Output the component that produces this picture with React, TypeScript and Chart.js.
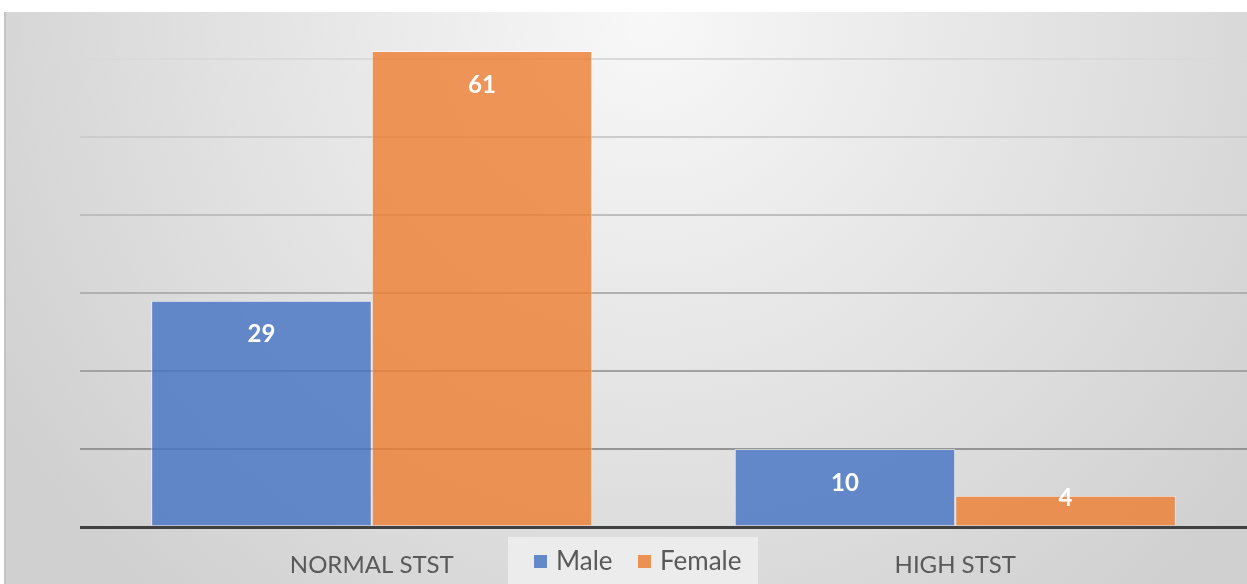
import React, { useEffect, useRef } from "react";
import { Chart, registerables } from "chart.js";

Chart.register(...registerables);

const categories = ["NORMAL STST", "HIGH STST"];
const seriesNames = ["Male", "Female"];
const maleValues = [29, 10];
const femaleValues = [61, 4];
const yMax = 66;
const yStep = 10;

const FONT = "Lato, 'Open Sans', sans-serif";
const TEXT_COLOR = "#595959";
const MALE_COLOR = "rgba(68,114,196,0.8)";
const FEMALE_COLOR = "rgba(237,125,49,0.8)";
const MALE_SWATCH = "#6389ca";
const FEMALE_SWATCH = "#ea9154";

const backgroundPlugin = {
  id: "bgPlugin",
  beforeDraw(chart: any) {
    const { ctx, width, height } = chart;
    ctx.save();
    ctx.fillStyle = "#ffffff";
    ctx.fillRect(0, 0, width, height);
    const g = ctx.createRadialGradient(650, 20, 0, 650, 20, 760);
    g.addColorStop(0, "#f8f8f8");
    g.addColorStop(1, "#d0d0d0");
    ctx.fillStyle = g;
    ctx.fillRect(4, 12, width - 4, height - 12);
    ctx.fillStyle = "#c4c4c4";
    ctx.fillRect(4, 12, 2, height - 12);
    ctx.restore();
  },
};

const labelPlugin = {
  id: "valueLabels",
  afterDatasetsDraw(chart: any) {
    const { ctx } = chart;
    ctx.save();
    ctx.font = `bold 24px ${FONT}`;
    ctx.fillStyle = "#ffffff";
    ctx.textAlign = "center";
    ctx.textBaseline = "middle";
    chart.data.datasets.forEach((ds: any, di: number) => {
      const meta = chart.getDatasetMeta(di);
      meta.data.forEach((el: any, i: number) => {
        const cy = Math.min(el.y + 34, el.base - 27);
        ctx.fillText(String(ds.data[i]), el.x, cy);
      });
    });
    ctx.restore();
  },
};

const legendPlugin = {
  id: "customLegend",
  afterDraw(chart: any) {
    const { ctx } = chart;
    ctx.save();
    ctx.fillStyle = "rgba(238,238,238,0.85)";
    ctx.fillRect(508, 537, 250, 47);
    const items = [
      { name: seriesNames[0], color: MALE_SWATCH, sx: 534, tx: 556 },
      { name: seriesNames[1], color: FEMALE_SWATCH, sx: 638, tx: 660 },
    ];
    ctx.font = `26px ${FONT}`;
    ctx.textBaseline = "middle";
    ctx.textAlign = "left";
    items.forEach((it) => {
      ctx.fillStyle = it.color;
      ctx.fillRect(it.sx, 555, 13, 13);
      ctx.fillStyle = TEXT_COLOR;
      ctx.fillText(it.name, it.tx, 562);
    });
    ctx.restore();
  },
};

export default function App() {
  const ref = useRef<HTMLCanvasElement | null>(null);
  useEffect(() => {
    document.body.style.margin = "0";
    const canvas = ref.current!;
    const chart = new Chart(canvas, {
      type: "bar",
      data: {
        labels: categories,
        datasets: [
          {
            label: seriesNames[0],
            data: maleValues,
            backgroundColor: MALE_COLOR,
            borderColor: "rgba(255,255,255,0.55)",
            borderWidth: 1,
            categoryPercentage: 0.756,
            barPercentage: 1,
          },
          {
            label: seriesNames[1],
            data: femaleValues,
            backgroundColor: FEMALE_COLOR,
            borderColor: "rgba(255,255,255,0.55)",
            borderWidth: 1,
            categoryPercentage: 0.756,
            barPercentage: 1,
          },
        ],
      },
      options: {
        responsive: false,
        animation: false,
        devicePixelRatio: 1,
        layout: { padding: { left: 80, top: 12, right: 0, bottom: 0 } },
        plugins: {
          legend: { display: false },
          tooltip: { enabled: false },
        },
        scales: {
          x: {
            grid: { display: false, drawTicks: false },
            border: { display: false },
            ticks: {
              color: TEXT_COLOR,
              font: { family: FONT, size: 24 },
              padding: 24,
            },
            afterFit: (scale: any) => {
              scale.height = 57;
            },
          },
          y: {
            min: 0,
            max: yMax,
            ticks: { display: false, stepSize: yStep, includeBounds: false },
            border: { display: false },
            grid: {
              drawTicks: false,
              lineWidth: (c: any) => (c.tick && c.tick.value === 0 ? 3 : 2),
              color: (c: any) => {
                if (c.tick && c.tick.value === 0) return "#404040";
                const ctx = c.chart.ctx;
                const g = ctx.createLinearGradient(0, 12, 0, 526);
                g.addColorStop(0, "#e2e2e2");
                g.addColorStop(1, "#878787");
                return g;
              },
            },
            afterFit: (scale: any) => {
              scale.width = 0;
            },
          },
        },
      },
      plugins: [backgroundPlugin, labelPlugin, legendPlugin],
    });
    return () => chart.destroy();
  }, []);
  return (
    <div style={{ width: 1247, height: 584, position: "relative" }}>
      <canvas ref={ref} width={1247} height={584} style={{ display: "block" }} />
    </div>
  );
}
